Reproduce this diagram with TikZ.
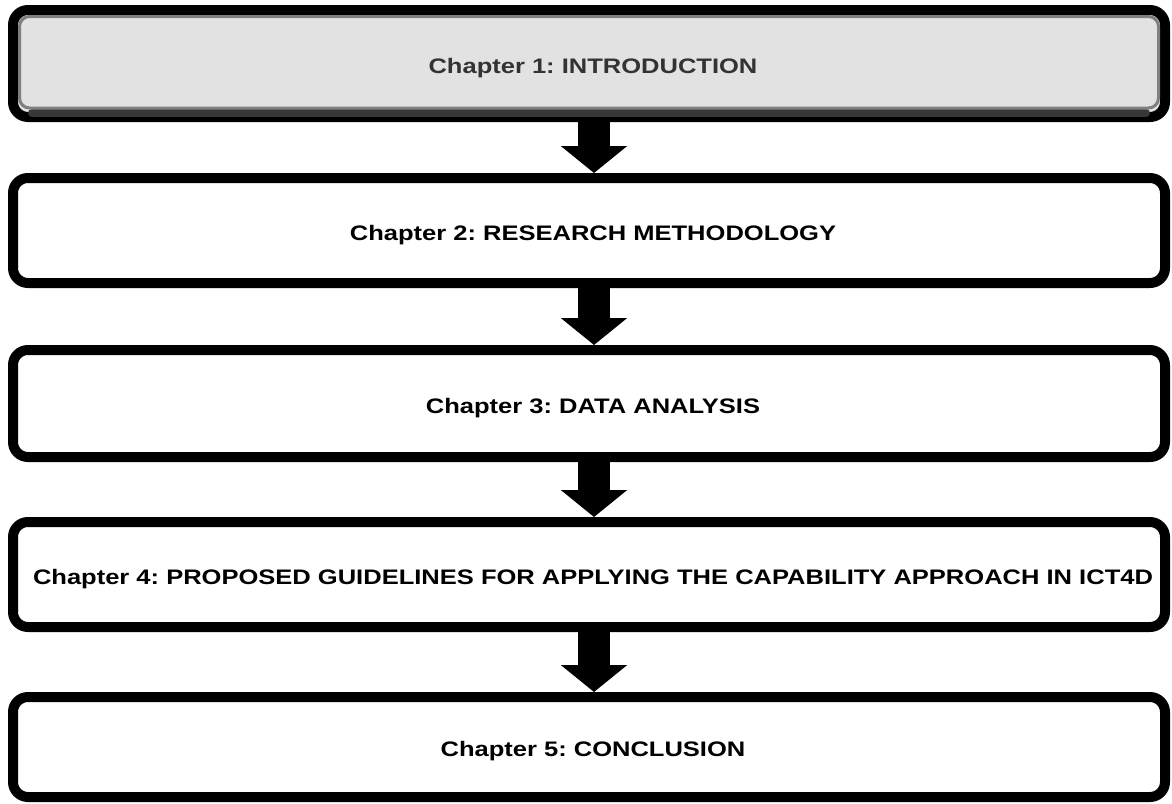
\documentclass[tikz,border=0pt]{standalone}
\usepackage{fontspec}
\setmainfont{Liberation Sans}
\usetikzlibrary{arrows.meta,calc}

\definecolor{introfill}{HTML}{E3E2E3}
\definecolor{introtext}{HTML}{333333}
\definecolor{bevelgray}{HTML}{7F7F7F}
\definecolor{beveldark}{HTML}{383838}

\tikzset{
  chaptertype/.style={font=\bfseries\fontsize{21}{24}\selectfont\frenchspacing,
    inner sep=0pt, text height=19pt, text depth=0pt},
  chapterbox/.style={chaptertype, draw=black, fill=white, line width=10pt,
    rounded corners=15pt, minimum width=1152pt},
  flowarrow/.style={draw=black, line width=32pt,
    -{Triangle[length=27pt,width=65pt]}},
}
\newcommand{\chaptertext}[1]{\hspace*{8pt}\scalebox{1.215}[1]{#1}}

\begin{document}
\begin{tikzpicture}[x=1pt,y=-1pt]
  \useasboundingbox (0,0) rectangle (1172,803);

  % chapter boxes
  \node[chapterbox, minimum height=107pt, fill=introfill] (b1) at (589,63.5) {};
  % bevel of the first box
  \draw[beveldark, line width=8pt, line cap=round]
    ($(b1.south west)+(24,-9)$) -- ($(b1.south east)+(-24,-9)$);
  \draw[bevelgray, line width=3pt, rounded corners=10pt]
    ($(b1.north west)+(11.5,11.5)$) rectangle ($(b1.south east)+(-11.5,-14)$);
  \node[chaptertype, text=introtext] (t1) at (b1.center)
    {\chaptertext{Chapter 1: INTRODUCTION}};

  \node[chapterbox, minimum height=105pt] (b2) at (589,230.5)
    {\chaptertext{Chapter 2: RESEARCH METHODOLOGY}};
  \node[chapterbox, minimum height=107pt] (b3) at (589,403.5)
    {\chaptertext{Chapter 3: DATA ANALYSIS}};
  \node[chapterbox, minimum height=105pt] (b4) at (589,574.5)
    {\chaptertext{Chapter 4: PROPOSED GUIDELINES FOR APPLYING THE CAPABILITY APPROACH IN ICT4D}};
  \node[chapterbox, minimum height=100pt] (b5) at (589,747)
    {\chaptertext{Chapter 5: CONCLUSION}};

  % block arrows between consecutive chapters
  \draw[flowarrow] ([xshift=5pt]b1.south) -- ([xshift=5pt]b2.north);
  \draw[flowarrow] ([xshift=5pt]b2.south) -- ([xshift=5pt]b3.north);
  \draw[flowarrow] ([xshift=5pt]b3.south) -- ([xshift=5pt]b4.north);
  \draw[flowarrow] ([xshift=5pt]b4.south) -- ([xshift=5pt]b5.north);
\end{tikzpicture}
\end{document}
